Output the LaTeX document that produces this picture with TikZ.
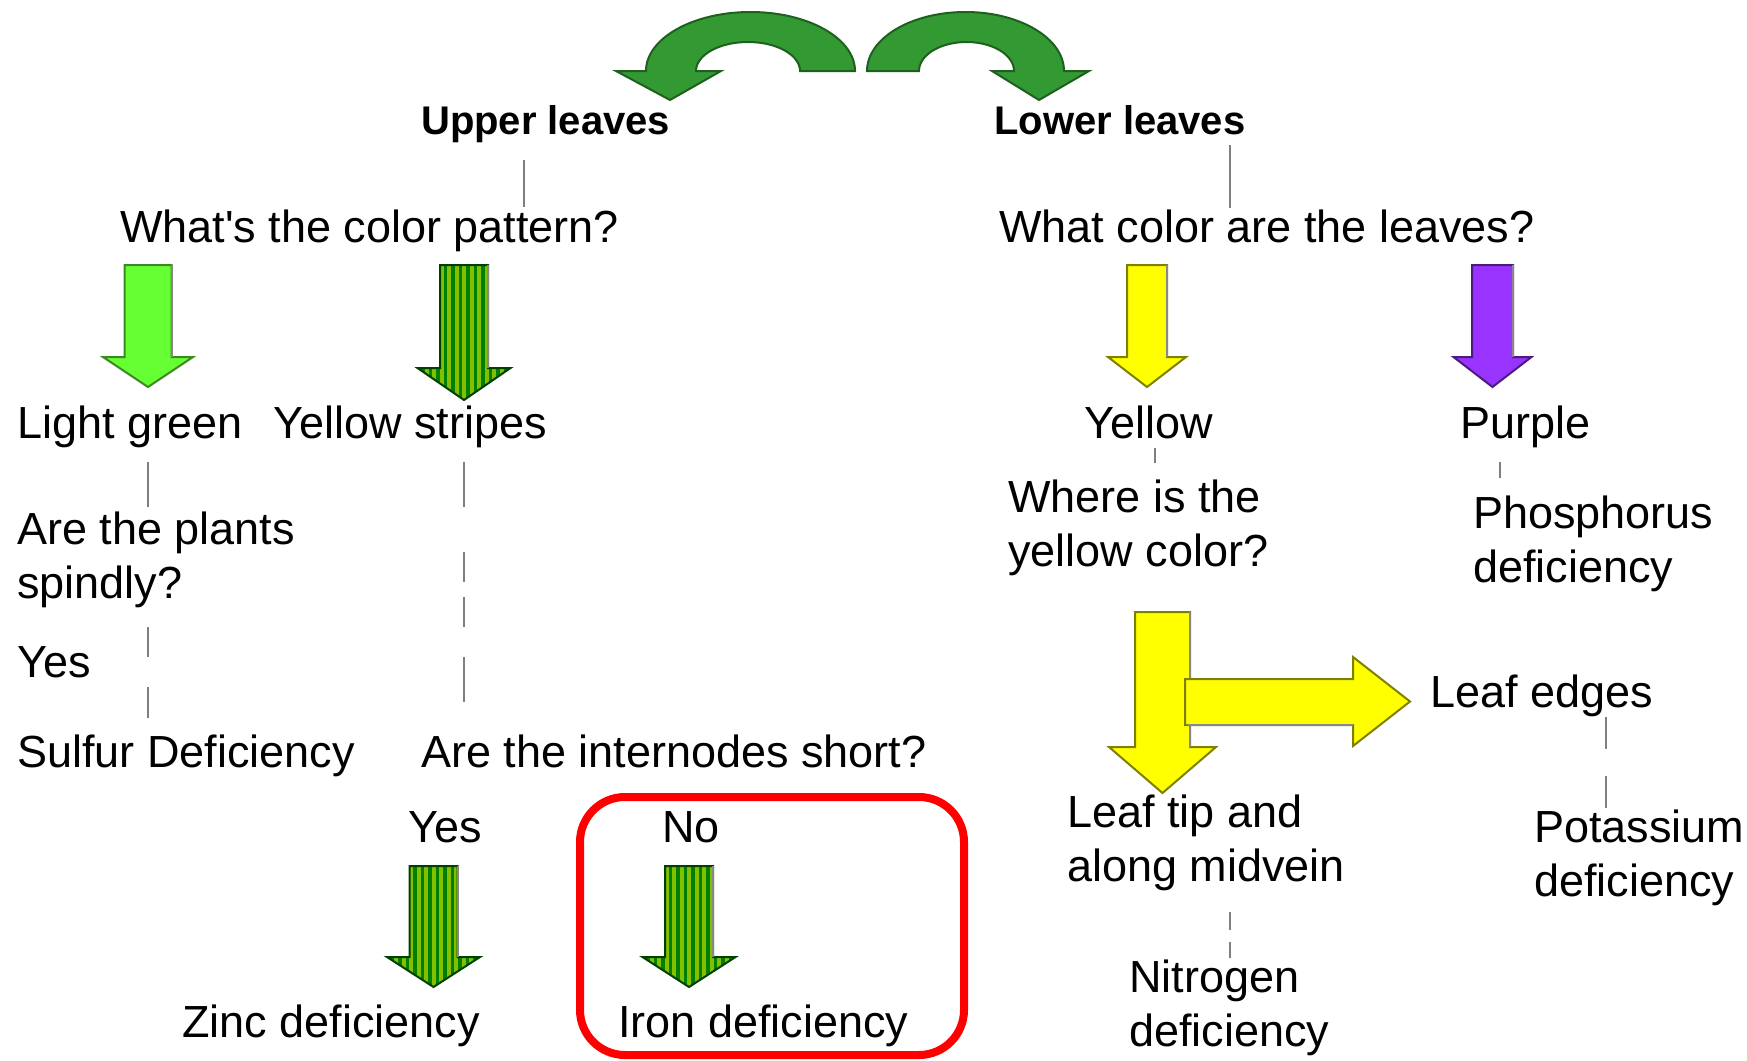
\documentclass[tikz,border=0pt]{standalone}
\usepackage{fontspec}
\setmainfont{Liberation Sans}[Ligatures=TeXOff]
\usetikzlibrary{calc}
\definecolor{leafF}{HTML}{339933}
\definecolor{leafD}{HTML}{1F5F1F}
\definecolor{lgF}{HTML}{66FF33}
\definecolor{lgD}{HTML}{3A8A1F}
\definecolor{stDark}{HTML}{008000}
\definecolor{stLight}{HTML}{84C000}
\definecolor{stEdge}{HTML}{004000}
\definecolor{yelF}{HTML}{FFFF00}
\definecolor{yelD}{HTML}{808000}
\definecolor{purF}{HTML}{9933FF}
\definecolor{purD}{HTML}{4D1A80}
\definecolor{connGray}{HTML}{7F7F7F}
\definecolor{shadowGray}{HTML}{888888}
\definecolor{boxRed}{HTML}{FF0000}

% #1 style, #2 cx, #3 top, #4 half shaft, #5 head base, #6 half head, #7 tip
\newcommand\myDownArrow[7]{%
  \filldraw[#1] ({#2-#4},#3) -- ({#2+#4},#3) -- ({#2+#4},#5) -- ({#2+#6},#5) -- (#2,#7) -- ({#2-#6},#5) -- ({#2-#4},#5) -- cycle;
  \draw[shadowline] ({#2+#4},#3) -- ({#2+#4},#5);}

% #1 cx, #2 top, #3 half shaft, #4 head base, #5 half head, #6 tip
\newcommand\myStripedArrow[6]{%
  \begin{scope}
    \clip ({#1-#3},#2) -- ({#1+#3},#2) -- ({#1+#3},#4) -- ({#1+#5},#4) -- (#1,#6) -- ({#1-#5},#4) -- ({#1-#3},#4) -- cycle;
    \fill[stDark] ({#1-#5},#2) rectangle ({#1+#5},#6);
    \foreach \k in {-7,...,7}{\fill[stLight] ({#1+(\k)*7.5-2},#2) rectangle ({#1+(\k)*7.5+2},#6);}
  \end{scope}
  \draw[draw=stEdge, line width=2pt] ({#1-#3},#2) -- ({#1+#3},#2) -- ({#1+#3},#4) -- ({#1+#5},#4) -- (#1,#6) -- ({#1-#5},#4) -- ({#1-#3},#4) -- cycle;
  \draw[shadowline] ({#1+#3},#2) -- ({#1+#3},#4);}

\begin{document}
\begin{tikzpicture}[x=1pt,y=-1pt,
  lbl/.style={anchor=base west, inner sep=0pt, font=\fontsize{45}{54}\selectfont, align=left},
  hdr/.style={anchor=base west, inner sep=0pt, font=\fontsize{40}{48}\selectfont\bfseries},
  conn/.style={draw=connGray, line width=2pt},
  shadowline/.style={draw=shadowGray, line width=2pt},
  leafA/.style={fill=leafF, draw=leafD, line width=2pt},
  lgA/.style={fill=lgF, draw=lgD, line width=2pt},
  yelA/.style={fill=yelF, draw=yelD, line width=2pt},
  purA/.style={fill=purF, draw=purD, line width=2pt},
  hlbox/.style={draw=boxRed, line width=8pt, rounded corners=45pt}]

\useasboundingbox (0,0) rectangle (1747,1060);
\fill[white] (0,0) rectangle (1747,1060);

% curved top arrows
\filldraw[leafA] (855,71) arc[start angle=0, end angle=180, x radius=104.5pt, y radius=59pt]
  -- (616,71) -- (670,100) -- (721,71) -- (696,71)
  arc[start angle=180, end angle=0, x radius=52pt, y radius=29pt] -- cycle;
\filldraw[leafA] (867,71) arc[start angle=180, end angle=0, x radius=98.5pt, y radius=59pt]
  -- (1089,71) -- (1039,100) -- (992,71) -- (1014,71)
  arc[start angle=0, end angle=180, x radius=47.5pt, y radius=29pt] -- cycle;

% texts (multi-line nodes are placed by their last line's baseline)
\node[hdr] (up) at (421,134) {Upper leaves};
\node[hdr] (low) at (994,134) {Lower leaves};
\node[lbl] (q1) at (120,242) {What's the color pattern?};
\node[lbl] (q2) at (999,242) {What color are the leaves?};
\node[lbl] (lg) at (17,438) {Light green};
\node[lbl] (ys) at (273,438) {Yellow stripes};
\node[lbl] (yel) at (1084,438) {Yellow};
\node[lbl] (pur) at (1460,438) {Purple};
\node[lbl] (spindly) at (17,598) {Are the plants\\spindly?};
\node[lbl] (yes1) at (17,677) {Yes};
\node[lbl] (sulfur) at (17,767) {Sulfur Deficiency};
\node[lbl] (intern) at (421,767) {Are the internodes short?};
\node[lbl] (yes2) at (408,842) {Yes};
\node[lbl] (no) at (662,842) {No};
\node[lbl] (zinc) at (182,1037) {Zinc deficiency};
\node[lbl] (iron) at (618,1037) {Iron deficiency};
\node[lbl] (where) at (1008,566) {Where is the\\yellow color?};
\node[lbl] (phos) at (1473,582) {Phosphorus\\deficiency};
\node[lbl] (edges) at (1430,707) {Leaf edges};
\node[lbl] (tip) at (1067,881) {Leaf tip and\\along midvein};
\node[lbl] (potas) at (1534,896) {Potassium\\deficiency};
\node[lbl] (nitro) at (1129,1046) {Nitrogen\\deficiency};

% down arrows
\myDownArrow{lgA}{148}{265}{23.5}{357}{45}{387}
\myStripedArrow{464}{265}{24}{368}{46.5}{400}
\myDownArrow{yelA}{1147}{265}{20}{357}{39}{387}
\myDownArrow{purA}{1492.5}{265}{20.5}{357}{39}{387}
\myStripedArrow{433.5}{866}{24}{957}{46.5}{987}
\myStripedArrow{689}{866}{24}{957}{46.5}{987}

% bent yellow arrow
\myDownArrow{yelA}{1162.5}{612}{27.5}{747}{53.5}{793}
\filldraw[yelA] (1185,679) -- (1353,679) -- (1353,657) -- (1410,701.5) -- (1353,746) -- (1353,725) -- (1185,725) -- cycle;
\draw[shadowline] (1187,725) -- (1353,725);

% connectors
\draw[conn] ($(up.base west)+(103,26)$) -- ($(q1.base west)+(404,-35)$);
\draw[conn] ($(low.base west)+(236,11)$) -- ($(q2.base west)+(231,-34)$);
\draw[conn] ($(lg.base west)+(131,24)$) -- ($(spindly.base west)+(131,-91)$);
\draw[conn] ($(spindly.base west)+(131,29)$) -- ($(yes1.base west)+(131,-20)$);
\draw[conn] ($(yes1.base west)+(131,10)$) -- ($(sulfur.base west)+(131,-49)$);
\draw[conn, dash pattern=on 45pt off 45pt on 30pt off 15pt on 30pt off 30pt on 45pt off 45pt]
  ($(ys.base west)+(191,24)$) -- ($(intern.base west)+(43,-65)$);
\draw[conn] ($(yel.base west)+(71,10)$) -- ($(where.base west)+(147,-103)$);
\draw[conn] ($(pur.base west)+(40,24)$) -- ($(phos.base west)+(27,-104)$);
\draw[conn, dash pattern=on 32pt off 27pt on 32pt off 40pt]
  ($(edges.base west)+(176,10)$) -- ($(potas.base west)+(72,-88)$);
\draw[conn, dash pattern=on 18pt off 12pt on 16pt off 30pt]
  ($(tip.base west)+(163,31)$) -- ($(nitro.base west)+(101,-88)$);

% highlight box
\draw[hlbox] (580,797) rectangle (964,1055);
\end{tikzpicture}
\end{document}
